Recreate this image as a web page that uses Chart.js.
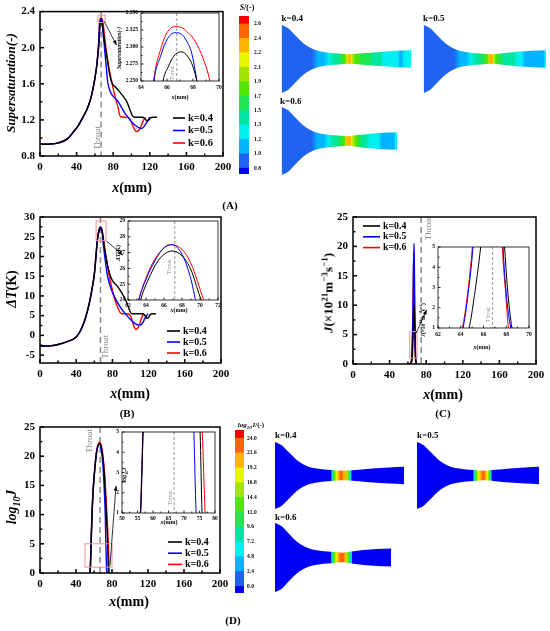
<!DOCTYPE html>
<html>
<head>
<meta charset="utf-8">
<script src="https://cdn.jsdelivr.net/npm/chart.js@4.4.0/dist/chart.umd.min.js"></script>
<style>
  body { margin: 0; background: #fff; }
  #page { position: relative; width: 550px; height: 631px; overflow: hidden;
          font-family: "Liberation Serif", "Times New Roman", serif; font-weight: bold; color: #000; }
  #page canvas { position: absolute; left: 0; top: 0; }
  .t { position: absolute; white-space: nowrap; line-height: 1; transform: translate(-50%, -50%); }
  .t.r { transform: translate(-50%, -50%) rotate(-90deg); }
  .t.l { transform: translate(0, -50%); }
  sup, sub { font-size: 70%; line-height: 0; }
</style>
</head>
<body>
<div id="page"></div>
<script>
// (A) supersaturation S(-) along the nozzle, x in mm
const sRiseX = [0, 10, 20, 30, 36, 42, 47, 51, 55, 58, 60, 62, 63];
const sRise  = [0.93, 0.932, 0.945, 0.99, 1.06, 1.14, 1.23, 1.31, 1.42, 1.55, 1.66, 1.8, 1.9];
const s04X = [64, 65, 65.7, 66.1, 66.5, 67.1, 67.6, 68.0, 68.3, 69, 70.5, 73, 76, 79, 83, 87, 91, 95, 98, 101, 104, 112, 115, 117, 119, 121, 124, 128];
const s04  = [1.99, 2.14, 2.25, 2.271, 2.286, 2.293, 2.286, 2.271, 2.25, 2.19, 2.08, 1.9, 1.71, 1.6, 1.56, 1.51, 1.46, 1.40, 1.32, 1.245, 1.23, 1.23, 1.21, 1.19, 1.2, 1.225, 1.23, 1.23];
const s05X = [64, 65, 65.5, 66.0, 66.6, 67.1, 67.5, 67.9, 68.3, 69, 70, 72, 74, 76.5, 80, 85.6, 89, 93, 97, 100, 104, 108, 111, 114, 116.5, 118.4, 120];
const s05  = [2.02, 2.25, 2.286, 2.311, 2.321, 2.319, 2.309, 2.291, 2.25, 2.16, 2.05, 1.83, 1.62, 1.52, 1.46, 1.40, 1.34, 1.27, 1.22, 1.18, 1.14, 1.115, 1.105, 1.13, 1.17, 1.2, 1.23];
const s06X = [64, 64.97, 65.5, 66.0, 66.6, 67.3, 67.6, 67.9, 68.5, 69.0, 69.3, 70, 72, 75, 78, 82, 85, 88, 92, 97, 100, 103, 105.5, 108, 110, 112, 114, 115.5];
const s06  = [2.04, 2.25, 2.296, 2.321, 2.330, 2.327, 2.321, 2.316, 2.296, 2.271, 2.25, 2.18, 2.0, 1.8, 1.64, 1.46, 1.35, 1.235, 1.23, 1.225, 1.17, 1.10, 1.07, 1.085, 1.12, 1.17, 1.21, 1.23];

// (B) subcooling dT (K)
const tRiseX = [0, 10, 20, 30, 40, 45, 50, 55, 58, 60, 62];
const tRise  = [-2.7, -2.65, -2.3, -1.6, -0.4, 1.3, 4.2, 8.7, 12.4, 15.4, 20.5];
const t04X = [63.4, 64.5, 65.5, 66.9, 68, 69, 70, 72, 75, 78, 80, 85, 90, 95, 98, 100, 102, 114, 116, 118, 120, 122, 124, 128];
const t04  = [24, 25.6, 26.6, 27.1, 26.8, 25.9, 24.2, 21.2, 17.4, 14.9, 13.9, 12.6, 10.9, 8.8, 7.0, 5.8, 5.5, 5.5, 5.0, 4.3, 4.6, 5.3, 5.5, 5.5];
const t05X = [63.2, 64, 65, 66, 66.9, 68, 69, 69.5, 71, 73, 75, 80, 85, 90, 95, 100, 105, 110, 113, 116, 118, 119.5];
const t05  = [24, 25.3, 26.5, 27.3, 27.5, 26.9, 25.3, 24, 21.0, 17.4, 14.6, 10.9, 8.6, 6.7, 5.3, 4.0, 3.0, 2.6, 3.0, 4.3, 5.1, 5.5];
const t06X = [63.2, 64, 65, 66, 66.7, 68, 69, 70.4, 72, 75, 78, 82, 86, 90, 96, 100, 103, 106, 108, 110, 112, 114.5];
const t06  = [24, 25.4, 26.6, 27.3, 27.5, 27.2, 26.3, 24, 21.3, 17.0, 13.5, 9.6, 7.0, 5.5, 5.5, 5.0, 2.8, 1.5, 1.8, 2.8, 4.3, 5.5];

// (C) nucleation rate J (x10^21 m^-3 s^-1)
const j04X = [62, 64, 64.73, 65.2, 65.75, 66.2, 66.7, 67.1, 67.5, 67.85, 68.1, 68.5, 68.9, 70];
const j04  = [0, 0.3, 1, 2.6, 5, 7.8, 10, 9, 7, 5, 3, 1, 0.3, 0];
const j05X = [62, 63.5, 64.2, 64.65, 65.08, 65.6, 66.1, 66.7, 67.1, 67.45, 67.72, 68.0, 68.4, 68.9, 70];
const j05  = [0, 0.3, 1, 2.7, 5, 9.5, 16, 20.5, 16, 9, 5, 2.7, 1, 0.3, 0];
const j06X = [62, 63.5, 64.14, 64.6, 65.02, 65.5, 66.0, 66.5, 67.0, 67.4, 67.66, 67.95, 68.2, 68.8, 70];
const j06  = [0, 0.3, 1, 2.7, 5, 9, 15, 19, 15, 9, 5, 2.7, 1, 0.3, 0];

// (D) log10 J
const l04X = [55.5, 56.0, 56.8, 57.8, 59, 61, 63, 65, 66.7, 68, 70, 72, 73.5, 74.5, 75.2, 75.8, 76.1];
const l04  = [0, 1, 5, 10, 14, 18, 20.8, 22, 22.2, 21.6, 19.5, 15.5, 11, 7.5, 5, 1, 0];
const l05X = [55.5, 56.0, 56.8, 57.8, 59, 61, 63, 65, 66.5, 68, 70, 71.5, 72.5, 73.2, 73.9, 74.2];
const l05  = [0, 1, 5, 10, 14, 18, 20.8, 21.9, 22.0, 21.2, 18.3, 14, 10, 5, 1, 0];
const l06X = [55.4, 55.9, 56.7, 57.7, 59, 61, 63, 65, 66.5, 68, 70, 72, 74, 75.9, 76.8, 77.1];
const l06  = [0, 1, 5, 10, 14.2, 18.2, 21, 22.2, 22.4, 21.9, 20, 16.5, 11, 5, 1, 0];

// nozzle wall half-height (mm): shared converging part, divergent part per k
const wallX = [0, 3, 6.7, 10, 13.3, 16.7, 20, 23.3, 26.7, 30, 33.3, 40, 46.7, 56.7];
const wallH = [34, 32.8, 30.7, 27.5, 24, 20.5, 17.3, 14.5, 12.3, 10.5, 9, 7.3, 6.3, 5.6];
const div04X = [66.8, 80, 96.7, 113, 128];
const div04H = [4.8, 5.7, 7.1, 8.2, 8.8];
const div05X = [66.8, 78, 92, 107, 121];
const div05H = [4.8, 5.8, 7.2, 8.2, 8.8];
const div06X = [66.8, 76, 88, 101, 115.5];
const div06H = [4.8, 5.9, 7.3, 8.3, 8.8];

// colour bars
const sBarLabels = ['0.8', '1.0', '1.2', '1.3', '1.5', '1.7', '1.9', '2.1', '2.2', '2.4', '2.6'];
const lBarLabels = ['0.0', '2.4', '4.8', '7.2', '9.6', '12.0', '14.4', '16.8', '19.2', '21.6', '24.0'];
const bandColors = ['#0000f5', '#1e64f0', '#00b4ff', '#00f0f0', '#00e6a0', '#1ee650',
                    '#50e600', '#a0e600', '#e6f500', '#ffb400', '#ff6400', '#f50000'];

// ticks
const xMain = [0, 40, 80, 120, 160, 200];
const sTicks = [0.8, 1.2, 1.6, 2.0, 2.4];
const sTickLabels = ['0.8', '1.2', '1.6', '2.0', '2.4'];
const tTicks = [-5, 0, 5, 10, 15, 20, 25, 30];
const jTicks = [0, 5, 10, 15, 20, 25];
const sInX = [64, 66, 68, 70];
const sInY = [2.25, 2.275, 2.3, 2.325, 2.35];
const sInYLabels = ['2.250', '2.275', '2.300', '2.325', '2.350'];
const tInX = [62, 64, 66, 68, 70, 72];
const tInY = [24, 25, 26, 27, 28, 29];
const jInX = [62, 64, 66, 68, 70];
const inY15 = [1, 2, 3, 4, 5];
const lInX = [50, 55, 60, 65, 70, 75, 80];

const SERIF = '"Liberation Serif", "Times New Roman", serif';
Chart.defaults.font.family = SERIF;
Chart.defaults.font.weight = 'bold';
Chart.defaults.color = '#000';

const page = document.getElementById('page');
const K = ['k=0.4', 'k=0.5', 'k=0.6'];
const COL = ['#000000', '#0000ff', '#ff0000'];

function addCanvas() {
  const c = document.createElement('canvas');
  c.width = 550; c.height = 631;
  page.appendChild(c);
  return c;
}

function txt(html, x, y, size, cls, style) {
  const d = document.createElement('div');
  d.className = 't' + (cls ? ' ' + cls : '');
  d.style.left = x + 'px';
  d.style.top = y + 'px';
  d.style.fontSize = size + 'px';
  if (style) Object.assign(d.style, style);
  d.innerHTML = html;
  page.appendChild(d);
}

const pts = (xs, ys) => xs.map((x, i) => ({ x, y: ys[i] }));

// annotations: frame, inward ticks, throat line, zoom box, arrow, legend
const marks = {
  id: 'marks',
  beforeDraw(chart, args, o) {
    if (!o || !o.white) return;
    const a = chart.chartArea, c = chart.ctx;
    c.save();
    c.fillStyle = '#fff';
    c.fillRect(a.left, a.top, a.width, a.height);
    c.restore();
  },
  beforeDatasetsDraw(chart, args, o) {
    if (!o || !o.throat) return;
    const a = chart.chartArea, c = chart.ctx, sx = chart.scales.x, sy = chart.scales.y, th = o.throat;
    const px = sx.getPixelForValue(th.x);
    c.save();
    c.strokeStyle = '#8a8a8a';
    c.lineWidth = th.w;
    c.setLineDash(th.dash);
    c.beginPath(); c.moveTo(px, a.top); c.lineTo(px, a.bottom); c.stroke();
    c.setLineDash([]);
    c.translate(sx.getPixelForValue(th.tx), sy.getPixelForValue(th.ty));
    c.rotate(-Math.PI / 2);
    c.fillStyle = '#8a8a8a';
    c.font = th.size + 'px ' + SERIF;
    c.textAlign = 'center';
    c.textBaseline = 'middle';
    c.fillText('Throat', 0, 0);
    c.restore();
  },
  afterDatasetsDraw(chart, args, o) {
    if (!o) return;
    const a = chart.chartArea, c = chart.ctx, sx = chart.scales.x, sy = chart.scales.y;
    const X = v => sx.getPixelForValue(v), Y = v => sy.getPixelForValue(v);
    c.save();
    if (o.box) {
      const [x0, x1, y0, y1] = o.box;
      c.strokeStyle = '#f09090';
      c.lineWidth = 1;
      c.strokeRect(X(x0), Y(y1), X(x1) - X(x0), Y(y0) - Y(y1));
    }
    if (o.arrow) {
      const [x0, y0, x1, y1] = o.arrow;
      const ang = Math.atan2(Y(y1) - Y(y0), X(x1) - X(x0));
      c.strokeStyle = '#000'; c.fillStyle = '#000'; c.lineWidth = 0.8;
      c.beginPath(); c.moveTo(X(x0), Y(y0)); c.lineTo(X(x1), Y(y1)); c.stroke();
      c.beginPath();
      c.moveTo(X(x1), Y(y1));
      c.lineTo(X(x1) - 5 * Math.cos(ang - 0.4), Y(y1) - 5 * Math.sin(ang - 0.4));
      c.lineTo(X(x1) - 5 * Math.cos(ang + 0.4), Y(y1) - 5 * Math.sin(ang + 0.4));
      c.closePath(); c.fill();
    }
    c.strokeStyle = '#000';
    c.lineWidth = o.frame;
    const seg = (p, len, horiz) => {
      c.beginPath();
      if (horiz) { c.moveTo(p, a.bottom); c.lineTo(p, a.bottom - len); }
      else { c.moveTo(a.left, p); c.lineTo(a.left + len, p); }
      c.stroke();
    };
    [[sx, true], [sy, false]].forEach(([s, horiz]) => {
      const v = s.ticks.map(t => t.value);
      v.forEach((val, i) => {
        seg(s.getPixelForValue(val), o.tick, horiz);
        if (i < v.length - 1) seg(s.getPixelForValue((val + v[i + 1]) / 2), o.tick * 0.6, horiz);
      });
    });
    c.strokeRect(a.left, a.top, a.width, a.height);
    if (o.legend) {
      const lg = o.legend;
      chart.data.datasets.forEach((d, i) => {
        const y = lg.y + i * lg.dy;
        c.strokeStyle = d.borderColor; c.lineWidth = 1.6;
        c.beginPath(); c.moveTo(lg.x, y); c.lineTo(lg.x + lg.len, y); c.stroke();
        c.fillStyle = '#000';
        c.font = 'bold ' + lg.size + 'px ' + SERIF;
        c.textAlign = 'left'; c.textBaseline = 'middle';
        c.fillText(d.label, lg.x + lg.len + 3, y);
      });
    }
    c.restore();
  }
};

// line chart whose plot area sits exactly on o.area = [left, top, right, bottom] (page px)
function lineChart(o) {
  const [l, t, r, b] = o.area;
  const tickFont = { family: SERIF, size: o.font, weight: 'bold' };
  return new Chart(addCanvas(), {
    type: 'line',
    data: {
      datasets: o.series.map((s, i) => ({
        label: K[i], data: pts(s[0], s[1]), borderColor: COL[i], borderWidth: o.lw,
        pointRadius: 0, fill: false, cubicInterpolationMode: 'monotone'
      }))
    },
    options: {
      responsive: false, animation: false, events: [],
      layout: { padding: { left: l - o.yW, top: t, right: 550 - r, bottom: 631 - b - o.xH } },
      plugins: { legend: { display: false }, tooltip: { enabled: false }, marks: o.marks },
      scales: {
        x: {
          type: 'linear', min: o.xr[0], max: o.xr[1],
          afterFit: s => { s.height = o.xH; },
          afterBuildTicks: s => { s.ticks = o.xTicks.map(v => ({ value: v })); },
          grid: { display: false, drawTicks: false }, border: { display: false },
          ticks: { font: tickFont, color: '#000', padding: o.xPad, autoSkip: false, maxRotation: 0,
                   callback: (v, i) => String(o.xTicks[i]) }
        },
        y: {
          type: 'linear', min: o.yr[0], max: o.yr[1],
          afterFit: s => { s.width = o.yW; },
          afterBuildTicks: s => { s.ticks = o.yTicks.map(v => ({ value: v })); },
          grid: { display: false, drawTicks: false }, border: { display: false },
          ticks: { font: tickFont, color: '#000', padding: o.yPad, autoSkip: false,
                   callback: (v, i) => (o.yLabels ? o.yLabels[i] : String(o.yTicks[i])) }
        }
      }
    },
    plugins: [marks]
  });
}

function bandColor(v, bounds) {
  let i = 0;
  while (i < bounds.length && v > bounds[i]) i++;
  return bandColors[i];
}

function colorbar(area, labels, lo, hi, pad, size) {
  const [l, t, r, b] = area;
  return new Chart(addCanvas(), {
    type: 'bar',
    data: {
      labels: [''],
      datasets: bandColors.map((c, i) => ({
        data: [[i === 0 ? lo : i - 1, i === bandColors.length - 1 ? hi : i]],
        backgroundColor: c, borderWidth: 0, grouped: false,
        barPercentage: 1, categoryPercentage: 1
      }))
    },
    options: {
      responsive: false, animation: false, events: [],
      layout: { padding: { left: l, top: t, right: 550 - r - 24, bottom: 631 - b } },
      plugins: { legend: { display: false }, tooltip: { enabled: false } },
      scales: {
        x: { display: false },
        y: {
          position: 'right', min: lo, max: hi,
          afterFit: s => { s.width = 24; },
          afterBuildTicks: s => { s.ticks = labels.map((_, i) => ({ value: i })); },
          grid: { display: false, drawTicks: false }, border: { display: false },
          ticks: { font: { family: SERIF, size: size, weight: 'bold' }, padding: pad, autoSkip: false,
                   callback: (v, i) => labels[i] }
        }
      }
    }
  });
}

// nozzle contour: walls filled with a colour ramp taken from the field values along x
function nozzle(area, L, divX, divH, vx, vv, bounds) {
  const [l, t, r, b] = area;
  const wx = wallX.concat(divX), wh = wallH.concat(divH);
  const grad = ctx => {
    const ch = ctx.chart, a = ch.chartArea;
    if (!a) return bandColors[1];
    const sx = ch.scales.x;
    const g = ch.ctx.createLinearGradient(a.left, 0, a.right, 0);
    vx.forEach((x, i) => {
      const f = (sx.getPixelForValue(x) - a.left) / (a.right - a.left);
      if (f >= 0 && f <= 1) g.addColorStop(f, bandColor(vv[i], bounds));
    });
    return g;
  };
  return new Chart(addCanvas(), {
    type: 'line',
    data: {
      datasets: [
        { data: pts(wx, wh), borderWidth: 0, borderColor: 'transparent', pointRadius: 0, fill: false, cubicInterpolationMode: 'monotone' },
        { data: pts(wx, wh.map(h => -h)), borderWidth: 0, borderColor: 'transparent', pointRadius: 0,
          fill: '-1', backgroundColor: grad, cubicInterpolationMode: 'monotone' }
      ]
    },
    options: {
      responsive: false, animation: false, events: [],
      layout: { padding: { left: l, top: t, right: 550 - r, bottom: 631 - b } },
      plugins: { legend: { display: false }, tooltip: { enabled: false } },
      scales: { x: { type: 'linear', display: false, min: 0, max: L }, y: { display: false, min: -34, max: 34 } }
    }
  });
}

// ---------- (A) ----------
const sSeries = [[sRiseX.concat(s04X), sRise.concat(s04)],
                 [sRiseX.concat(s05X), sRise.concat(s05)],
                 [sRiseX.concat(s06X), sRise.concat(s06)]];
lineChart({
  area: [40, 10, 223, 156], xr: [0, 200], yr: [0.8, 2.4], xTicks: xMain, yTicks: sTicks, yLabels: sTickLabels,
  font: 11, yW: 30, xH: 20, xPad: 5, yPad: 5, lw: 1.4, series: sSeries,
  marks: { frame: 1.5, tick: 4, throat: { x: 66.8, tx: 62.8, ty: 1.0, size: 9, w: 1.5, dash: [6, 4] },
           box: [63.5, 71, 2.28, 2.36], arrow: [70.2, 2.29, 83.6, 2.03],
           legend: { x: 173, y: 118, dy: 12.5, len: 12, size: 10.5 } }
});
lineChart({
  area: [141, 13, 219, 81], xr: [64, 70], yr: [2.25, 2.35], xTicks: sInX, yTicks: sInY, yLabels: sInYLabels,
  font: 5.5, yW: 16, xH: 10, xPad: 3, yPad: 3, lw: 1, series: sSeries,
  marks: { white: true, frame: 0.8, tick: 2.5, throat: { x: 66.75, tx: 66.45, ty: 2.262, size: 5.5, w: 0.9, dash: [3, 2] } }
});
colorbar([239, 16, 249, 174], sBarLabels, -0.4, 10.55, 5, 5.5);
nozzle([281.5, 25, 411, 93], 128, div04X, div04H, sRiseX.concat(s04X), sRise.concat(s04), sBarLabels.map(Number));
nozzle([423.5, 25, 546, 93], 121, div05X, div05H, sRiseX.concat(s05X), sRise.concat(s05), sBarLabels.map(Number));
nozzle([281.5, 107, 397, 175], 115.5, div06X, div06H, sRiseX.concat(s06X), sRise.concat(s06), sBarLabels.map(Number));

// ---------- (B) ----------
const tSeries = [[tRiseX.concat(t04X), tRise.concat(t04)],
                 [tRiseX.concat(t05X), tRise.concat(t05)],
                 [tRiseX.concat(t06X), tRise.concat(t06)]];
lineChart({
  area: [40, 217, 221, 363], xr: [0, 200], yr: [-7, 30], xTicks: xMain, yTicks: tTicks,
  font: 11, yW: 30, xH: 20, xPad: 5, yPad: 5, lw: 1.4, series: tSeries,
  marks: { frame: 1.5, tick: 4, throat: { x: 66.8, tx: 72.4, ty: -2.9, size: 9, w: 1.5, dash: [6, 4] },
           box: [62, 73, 24, 29], arrow: [74, 23.8, 91.5, 20.3],
           legend: { x: 167, y: 331, dy: 11, len: 13, size: 10 } }
});
lineChart({
  area: [128, 221, 218, 300], xr: [62, 72], yr: [24, 29], xTicks: tInX, yTicks: tInY,
  font: 5.5, yW: 12, xH: 10, xPad: 2, yPad: 3, lw: 1, series: tSeries,
  marks: { white: true, frame: 0.8, tick: 2.5, throat: { x: 67.2, tx: 66.6, ty: 26.1, size: 5.5, w: 0.9, dash: [3, 2] } }
});

// ---------- (C) ----------
const jSeries = [[j04X, j04], [j05X, j05], [j06X, j06]];
lineChart({
  area: [353, 217, 536, 364], xr: [0, 200], yr: [0, 25], xTicks: xMain, yTicks: jTicks,
  font: 11, yW: 30, xH: 20, xPad: 5, yPad: 5, lw: 1.4, series: jSeries,
  marks: { frame: 1.5, tick: 4, throat: { x: 74.5, tx: 82.6, ty: 23.1, size: 9, w: 1.5, dash: [6, 4] },
           box: [62, 70, 1, 5.5], arrow: [68.8, 5.2, 80.4, 9.2],
           legend: { x: 363, y: 226, dy: 10.8, len: 17, size: 9.8 } }
});
lineChart({
  area: [438, 247, 529, 328], xr: [62, 70], yr: [1, 5], xTicks: jInX, yTicks: inY15,
  font: 5.5, yW: 12, xH: 10, xPad: 3, yPad: 3, lw: 1, series: jSeries,
  marks: { white: true, frame: 0.8, tick: 2.5, throat: { x: 66.8, tx: 66.45, ty: 1.66, size: 5.5, w: 0.9, dash: [3, 2] } }
});

// ---------- (D) ----------
const lSeries = [[l04X, l04], [l05X, l05], [l06X, l06]];
lineChart({
  area: [40, 427, 220, 573], xr: [0, 200], yr: [0, 25], xTicks: xMain, yTicks: jTicks,
  font: 11, yW: 30, xH: 20, xPad: 5, yPad: 5, lw: 1.4, series: lSeries,
  marks: { frame: 1.5, tick: 4, throat: { x: 66.8, tx: 55.6, ty: 22.6, size: 9, w: 1.5, dash: [6, 4] },
           box: [50, 80, 1, 5], arrow: [77.8, 1.3, 84.4, 14.9],
           legend: { x: 168, y: 542, dy: 11.2, len: 14, size: 10 } }
});
lineChart({
  area: [122, 432, 215, 513], xr: [50, 80], yr: [1, 5], xTicks: lInX, yTicks: inY15,
  font: 5.5, yW: 12, xH: 10, xPad: 2, yPad: 3, lw: 1, series: lSeries,
  marks: { white: true, frame: 0.8, tick: 2.5, throat: { x: 66.8, tx: 65.8, ty: 1.75, size: 5.5, w: 0.9, dash: [3, 2] } }
});
colorbar([235, 430, 244, 593], lBarLabels, -0.45, 10.55, 3, 5.5);
nozzle([275, 442, 404, 509], 128, div04X, div04H, l04X, l04, lBarLabels.map(Number));
nozzle([417, 442, 539, 509], 121, div05X, div05H, l05X, l05, lBarLabels.map(Number));
nozzle([275, 523, 391, 592], 115.5, div06X, div06H, l06X, l06, lBarLabels.map(Number));

// ---------- text ----------
txt('<i>Supersaturation</i><i>(-)</i>', 10, 83, 13, 'r');
txt('<i>x</i>(mm)', 132, 188, 14);
txt('<i>Supersaturation(-)</i>', 120, 48, 5.5, 'r');
txt('<i>x</i>(mm)', 180, 97, 6);
txt('<i>S</i>/(-)', 247, 8, 8);
txt('k=0.4', 281.5, 18, 9, 'l');
txt('k=0.5', 423, 18, 9, 'l');
txt('k=0.6', 280, 101, 9, 'l');
txt('(A)', 230, 205, 11);

txt('<i>ΔT</i>(K)', 12, 289, 14, 'r');
txt('<i>x</i>(mm)', 130, 394, 14);
txt('<i>ΔT</i>(K)', 117.5, 253, 6, 'r');
txt('<i>x</i>(mm)', 179, 310, 6);
txt('(B)', 127, 413, 11);

txt('<i>J</i>(×10<sup>21</sup>m<sup>−3</sup>s<sup>−1</sup>)', 328, 293, 13, 'r');
txt('<i>x</i>(mm)', 443, 395, 14);
txt('<i>J</i>(×10<sup>21</sup>m<sup>−3</sup>s<sup>−1</sup>)', 424, 320, 5.5, 'r');
txt('<i>x</i>(mm)', 482, 347, 6);
txt('(C)', 443, 413, 11);

txt('<i>log<sub>10</sub>J</i>', 12, 507, 14, 'r');
txt('<i>x</i>(mm)', 129, 602, 14);
txt('<i>log<sub>10</sub>J</i>', 124, 475, 6, 'r');
txt('<i>x</i>(mm)', 169, 522, 6);
txt('<i>log<sub>10</sub>J</i>/(-)', 251, 425, 7);
txt('k=0.4', 275, 435, 9, 'l');
txt('k=0.5', 417, 435, 9, 'l');
txt('k=0.6', 275, 517, 9, 'l');
txt('(D)', 233, 620, 11);
</script>
</body>
</html>
